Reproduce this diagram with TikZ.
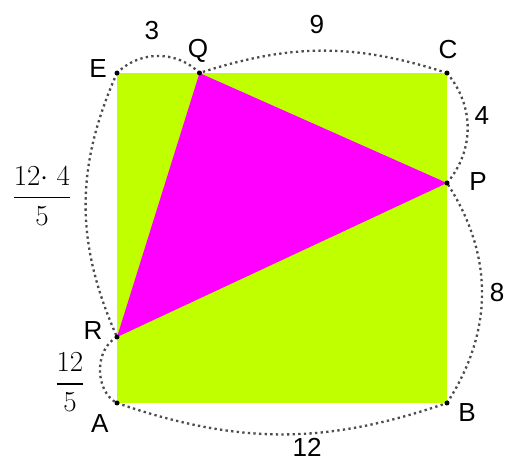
\documentclass[tikz,border=0pt]{standalone}
\usepackage{fontspec}
\newfontfamily\labelfont{Liberation Sans}
\usepackage{amsmath}
\definecolor{squarefill}{RGB}{191,255,0}
\definecolor{trifill}{RGB}{255,0,255}

\begin{document}
\begin{tikzpicture}[
  lbl/.style={font=\labelfont\fontsize{27}{32}\selectfont, inner sep=0pt},
  frc/.style={font=\huge, scale=1.45, inner sep=0pt},
  vertex/.style={circle, fill=black, inner sep=0pt, minimum size=1.8mm},
  span/.style={draw=black!70, line width=2.4pt, dash pattern=on 2.4pt off 3.4pt}
]
\useasboundingbox (-4.2545,-2.109) rectangle (14.109,14.655);
\coordinate (A) at (0,0);
\coordinate (B) at (12,0);
\coordinate (C) at (12,12);
\coordinate (E) at (0,12);
\coordinate (Q) at (3,12);
\coordinate (P) at (12,8);
\coordinate (R) at (0,2.4);
\fill[squarefill] (A) rectangle (C);
\fill[trifill] (Q) -- (P) -- (R) -- cycle;
% dotted spans round the square
\draw[span] (A) to[bend right=19] (B);
\draw[span] (B) to[bend right=33] (P);
\draw[span] (P) to[bend right=40] (C);
\draw[span] (C) to[bend right=18] (Q);
\draw[span] (Q) to[bend right=45] (E);
\draw[span] (E) to[bend right=24] (R);
\draw[span] (R) to[bend right=62] (A);
\foreach \p in {A,B,C,E,Q,P,R}
  \node[vertex] at (\p) {};
% point names
\node[lbl] (labA) at (-0.62,-0.73) {A};
\node[lbl] (labB) at (12.73,-0.36) {B};
\node[lbl] (labC) at (12.04,12.84) {C};
\node[lbl] (labE) at (-0.69,12.18) {E};
\node[lbl] (labQ) at (2.95,12.8) {Q};
\node[lbl] (labP) at (13.13,8.04) {P};
\node[lbl] (labR) at (-0.87,2.65) {R};
% lengths
\node[lbl] (lenEQ) at (1.27,13.56) {3};
\node[lbl] (lenQC) at (7.27,13.75) {9};
\node[lbl] (lenCP) at (13.27,10.47) {4};
\node[lbl] (lenPB) at (13.82,4.0) {8};
\node[lbl] (lenAB) at (6.91,-1.62) {12};
\node[frc] (lenER) at (-2.73,7.53) {$\dfrac{12{\cdot}\;4}{5}$};
\node[frc] (lenRA) at (-1.71,0.76) {$\dfrac{12}{5}$};
\end{tikzpicture}
\end{document}
